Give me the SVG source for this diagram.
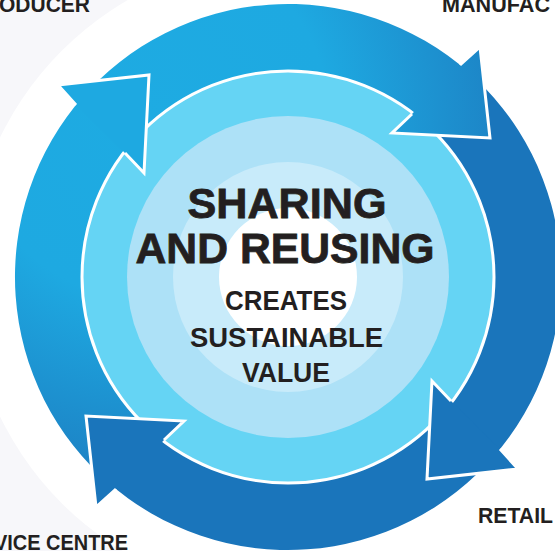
<svg xmlns="http://www.w3.org/2000/svg" width="555" height="551" viewBox="0 0 555 551">
<defs>
<radialGradient id="lg" gradientUnits="userSpaceOnUse" cx="150" cy="120" r="400">
<stop offset="0" stop-color="#1eabe2"/>
<stop offset="0.45" stop-color="#1ea9e1"/>
<stop offset="1" stop-color="#1c79be"/>
</radialGradient>
<style>
.dark{fill:#1a75bb}
.light{fill:url(#lg)}
.edge{fill:none;stroke:#ffffff;stroke-width:3;stroke-linejoin:miter}
.t{font-family:"Liberation Sans",Arial,sans-serif;font-weight:bold;fill:#231f20;text-anchor:start}
.h{font-family:"Liberation Sans",Arial,sans-serif;font-weight:bold;fill:#231f20;stroke:#231f20;stroke-width:0.8;text-anchor:middle}
.s{font-family:"Liberation Sans",Arial,sans-serif;font-weight:bold;fill:#231f20;text-anchor:middle}
</style>
</defs>
<rect x="0" y="0" width="555" height="551" fill="#ffffff"/>
<rect x="0" y="0" width="288" height="551" fill="#f7f7fa"/>
<circle cx="288" cy="277" r="320" fill="#ffffff"/>

<g id="hub">
<circle cx="288" cy="277" r="206" fill="#65d4f4"/>
<circle cx="288" cy="277" r="161" fill="#ade1f7"/>
<circle cx="288" cy="277" r="115" fill="#c8ebfa"/>
<circle cx="288" cy="277" r="69" fill="#ffffff"/>
</g>

<g id="connectors">
<path id="arc-top" class="light" d="M80.4,99.7 A273,273 0 0 1 468.9,72.5 L424.5,122.7 A206,206 0 0 0 131.4,143.2 Z"/>
<path id="arc-left" class="light" d="M110.7,484.6 A273,273 0 0 1 83.5,96.1 L133.7,140.5 A206,206 0 0 0 154.2,433.6 Z"/>
<path id="arc-right" class="dark" d="M465.3,69.4 A273,273 0 0 1 492.5,457.9 L442.3,413.5 A206,206 0 0 0 421.8,120.4 Z"/>
<path id="arc-bottom" class="dark" d="M495.6,454.3 A273,273 0 0 1 107.1,481.5 L151.5,431.3 A206,206 0 0 0 444.6,410.8 Z"/>
<circle cx="288" cy="277" r="206" fill="none" stroke="#ffffff" stroke-width="3"/>
<g id="head-topright">
<polygon class="light" points="460,65 480,47 490,138 392,133 412,114"/>
<polyline class="edge" points="460,65 480,47 490,138 392,133 412,114"/>
</g>
<g id="head-bottomright" transform="rotate(90 288 277)">
<polygon class="dark" points="460,65 480,47 490,138 392,133 412,114"/>
<polyline class="edge" points="460,65 480,47 490,138 392,133 412,114"/>
</g>
<g id="head-bottomleft" transform="rotate(180 288 277)">
<polygon class="dark" points="460,65 480,47 490,138 392,133 412,114"/>
<polyline class="edge" points="460,65 480,47 490,138 392,133 412,114"/>
</g>
<g id="head-topleft" transform="rotate(270 288 277)">
<polygon fill="#1ea9e1" points="460,65 480,47 490,138 392,133 412,114"/>
<polyline class="edge" points="460,65 480,47 490,138 392,133 412,114"/>
</g>
</g>

<g id="center">
<text class="h" x="287" y="218" font-size="42" textLength="199" lengthAdjust="spacingAndGlyphs">SHARING</text>
<text class="h" x="285" y="263" font-size="42" textLength="299" lengthAdjust="spacingAndGlyphs">AND REUSING</text>
<text class="s" x="286" y="310" font-size="28" textLength="122" lengthAdjust="spacingAndGlyphs">CREATES</text>
<text class="s" x="286.5" y="347" font-size="28" textLength="193" lengthAdjust="spacingAndGlyphs">SUSTAINABLE</text>
<text class="s" x="286" y="382" font-size="28" textLength="88" lengthAdjust="spacingAndGlyphs">VALUE</text>
</g>

<g id="producer"><text class="t" x="-1" y="12" font-size="22" textLength="91" lengthAdjust="spacingAndGlyphs">ODUCER</text></g>
<g id="manufacturer"><text class="t" x="442" y="12" font-size="22" textLength="108" lengthAdjust="spacingAndGlyphs">MANUFAC</text></g>
<g id="retail"><text class="t" x="478" y="523" font-size="22" textLength="75" lengthAdjust="spacingAndGlyphs">RETAIL</text></g>
<g id="service-centre"><text class="t" x="-6" y="550" font-size="22" textLength="134" lengthAdjust="spacingAndGlyphs">VICE CENTRE</text></g>
</svg>
